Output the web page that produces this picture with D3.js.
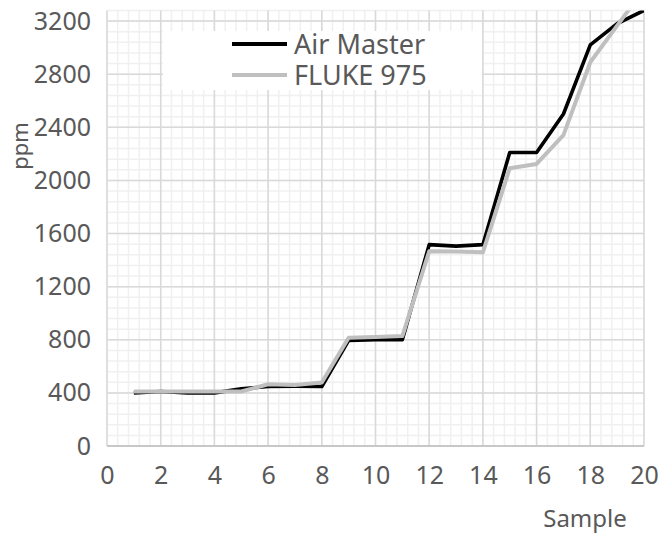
<!DOCTYPE html>
<html><head><meta charset="utf-8">
<script src="https://cdn.jsdelivr.net/npm/d3@7"></script>
<style>body{margin:0;background:#fff;}svg{display:block;}text{font-family:"Noto Sans",sans-serif;fill:#595959;}</style>
</head><body>
<svg id="c" width="671" height="533"></svg>
<script>
const samples = [1,2,3,4,5,6,7,8,9,10,11,12,13,14,15,16,17,18,19,20];
const airMaster = [400,410,400,400,430,448,450,448,795,800,800,1516,1505,1516,2210,2210,2500,3020,3180,3280];
const fluke975 = [410,410,410,410,410,465,460,478,815,820,828,1466,1465,1458,2092,2124,2341,2890,3165,3440];
const seriesNames = ["Air Master","FLUKE 975"];
const xTicks = [0,2,4,6,8,10,12,14,16,18,20];
const yTicks = [0,400,800,1200,1600,2000,2400,2800,3200];

const svg = d3.select("#c");
const L=107,R=644,T=10.4,B=446;
const x = d3.scaleLinear().domain([0,20]).range([L,R]);
const y = d3.scaleLinear().domain([0,3280]).range([B,T]);

// minor grid
const g = svg.append("g");
g.selectAll(".mx").data(d3.range(0,20.001,0.4)).join("line")
  .attr("x1",d=>x(d)).attr("x2",d=>x(d)).attr("y1",T).attr("y2",B)
  .attr("stroke","#f0f0f0").attr("stroke-width",1.5);
g.selectAll(".my").data(d3.range(0,3280.1,80)).join("line")
  .attr("x1",L).attr("x2",R).attr("y1",d=>y(d)).attr("y2",d=>y(d))
  .attr("stroke","#f0f0f0").attr("stroke-width",1.5);
// major grid
g.selectAll(".Mx").data(xTicks).join("line")
  .attr("x1",d=>x(d)).attr("x2",d=>x(d)).attr("y1",T).attr("y2",B)
  .attr("stroke","#d9d9d9").attr("stroke-width",1.5);
g.selectAll(".My").data(yTicks).join("line")
  .attr("x1",L).attr("x2",R).attr("y1",d=>y(d)).attr("y2",d=>y(d))
  .attr("stroke","#d9d9d9").attr("stroke-width",1.5);
// bottom axis line
svg.append("line").attr("x1",L).attr("x2",R).attr("y1",B).attr("y2",B)
  .attr("stroke","#c8c8c8").attr("stroke-width",2);

// axes labels via d3 axes
const xa = svg.append("g").attr("transform",`translate(0,${B})`)
  .call(d3.axisBottom(x).tickValues(xTicks).tickFormat(d3.format("d")).tickSize(0).tickPadding(20));
xa.select(".domain").remove();
xa.selectAll("text").attr("font-size",25).attr("fill","#595959").style("font-family","'Noto Sans',sans-serif");
const ya = svg.append("g").attr("transform",`translate(${L},0)`)
  .call(d3.axisLeft(y).tickValues(yTicks).tickFormat(d3.format("d")).tickSize(0).tickPadding(16));
ya.select(".domain").remove();
ya.selectAll("text").attr("font-size",25).attr("fill","#595959").style("font-family","'Noto Sans',sans-serif");

// lines
svg.append("clipPath").attr("id","pc").append("rect")
  .attr("x",L).attr("y",T).attr("width",R-L).attr("height",B-T);
const line = d3.line().x((d,i)=>x(samples[i])).y(d=>y(d));
const lg = svg.append("g").attr("clip-path","url(#pc)");
lg.append("path").datum(airMaster).attr("d",line).attr("fill","none")
  .attr("stroke","#000").attr("stroke-width",3.6).attr("stroke-linejoin","round");
lg.append("path").datum(fluke975).attr("d",line).attr("fill","none")
  .attr("stroke","#bfbfbf").attr("stroke-width",4).attr("stroke-linejoin","round");

// legend
const leg = svg.append("g");
leg.append("rect").attr("x",163).attr("y",31).attr("width",319).attr("height",59).attr("fill","#fff");
const colors=["#000","#bfbfbf"];
seriesNames.forEach((n,i)=>{
  const yy = 44 + i*31;
  leg.append("line").attr("x1",232).attr("x2",287).attr("y1",yy).attr("y2",yy)
    .attr("stroke",colors[i]).attr("stroke-width",4);
  leg.append("text").attr("x",294).attr("y",yy+10).attr("font-size",27).text(n);
});

// titles
svg.append("text").attr("transform","translate(28,146) rotate(-90)")
  .attr("text-anchor","middle").attr("font-size",22).text("ppm");
svg.append("text").attr("x",585).attr("y",527).attr("text-anchor","middle")
  .attr("font-size",24).text("Sample");
</script>
</body></html>
